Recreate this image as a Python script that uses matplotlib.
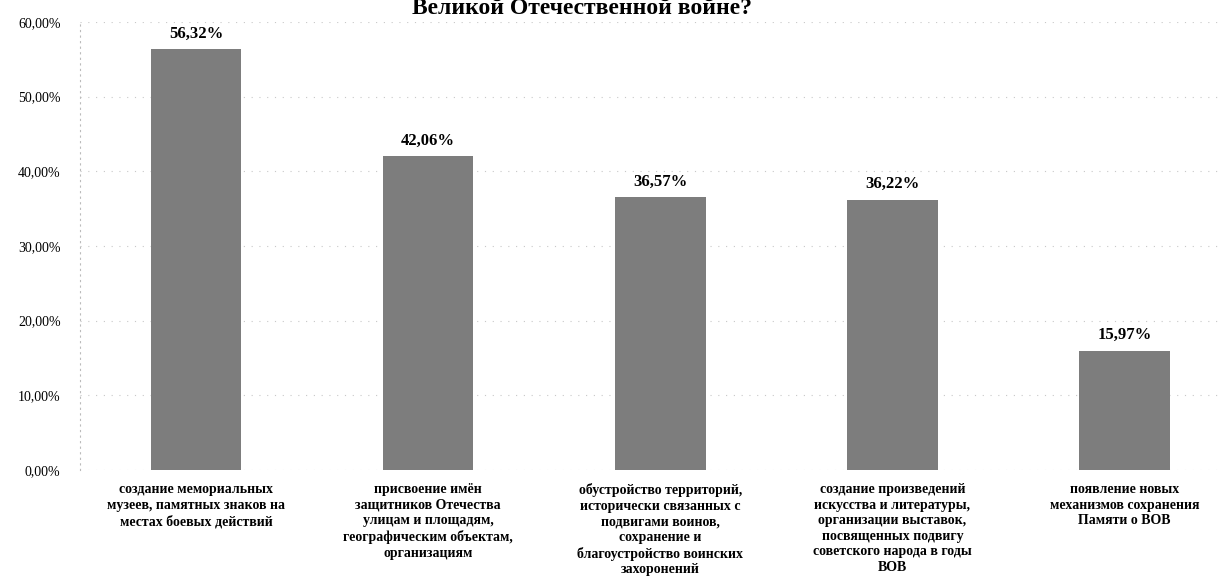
import matplotlib.pyplot as plt
from matplotlib.ticker import FuncFormatter

# ─── DATA ─────────────────────────────────────────────────
categories = [
    "создание мемориальных\nмузеев, памятных знаков на\nместах боевых действий",
    "присвоение имён\nзащитников Отечества\nулицам и площадям,\nгеографическим объектам,\nорганизациям",
    "обустройство территорий,\nисторически связанных с\nподвигами воинов,\nсохранение и\nблагоустройство воинских\nзахоронений",
    "создание произведений\nискусства и литературы,\nорганизации выставок,\nпосвященных подвигу\nсоветского народа в годы\nВОВ",
    "появление новых\nмеханизмов сохранения\nПамяти о ВОВ",
]
values = [56.32, 42.06, 36.57, 36.22, 15.97]
yticks = [0, 10, 20, 30, 40, 50, 60]
title = "Великой Отечественной войне?"

# ─── PLOT ─────────────────────────────────────────────────
plt.rcParams['font.family'] = ['Liberation Serif', 'DejaVu Serif']

fig = plt.figure(figsize=(12.22, 5.77), dpi=100)
ax = fig.add_axes([80 / 1222, 1 - 470 / 577, (1222 - 80) / 1222, 448 / 577])

x = list(range(len(values)))
ax.bar(x, values, width=0.39, color="#7d7d7d", zorder=2)

for xi, v in zip(x, values):
    ax.text(xi, v + 1.0, f"{v:.2f}%".replace(".", ","), ha="center", va="bottom",
            fontsize=12, fontweight="bold")

ax.set_xlim(-0.5, 4.42)
ax.set_ylim(0, 60)
ax.set_yticks(yticks)
ax.yaxis.set_major_formatter(FuncFormatter(lambda v, p: f"{v:.2f}%".replace(".", ",")))
ax.tick_params(axis="y", length=0, labelsize=10, pad=14)
ax.tick_params(axis="x", length=0)
ax.set_xticks(x)
ax.set_xticklabels([])

# category labels under the bars
for xi, lab in zip(x, categories):
    ax.text(xi, -1.8, lab, ha="center", va="top", fontsize=10, fontweight="bold",
            linespacing=1.25)

ax.grid(axis="y", color="#c8c8c8", linestyle=(0, (1, 6)), linewidth=0.8, zorder=0)
for side in ["top", "right", "bottom"]:
    ax.spines[side].set_visible(False)
ax.spines["left"].set_color("#bbbbbb")
ax.spines["left"].set_linestyle((0, (1, 4)))
ax.spines["left"].set_linewidth(0.8)

fig.text(0.476, 0.986, title, ha="center", va="center", fontsize=17, fontweight="bold")

plt.savefig("out.png", dpi=100)
